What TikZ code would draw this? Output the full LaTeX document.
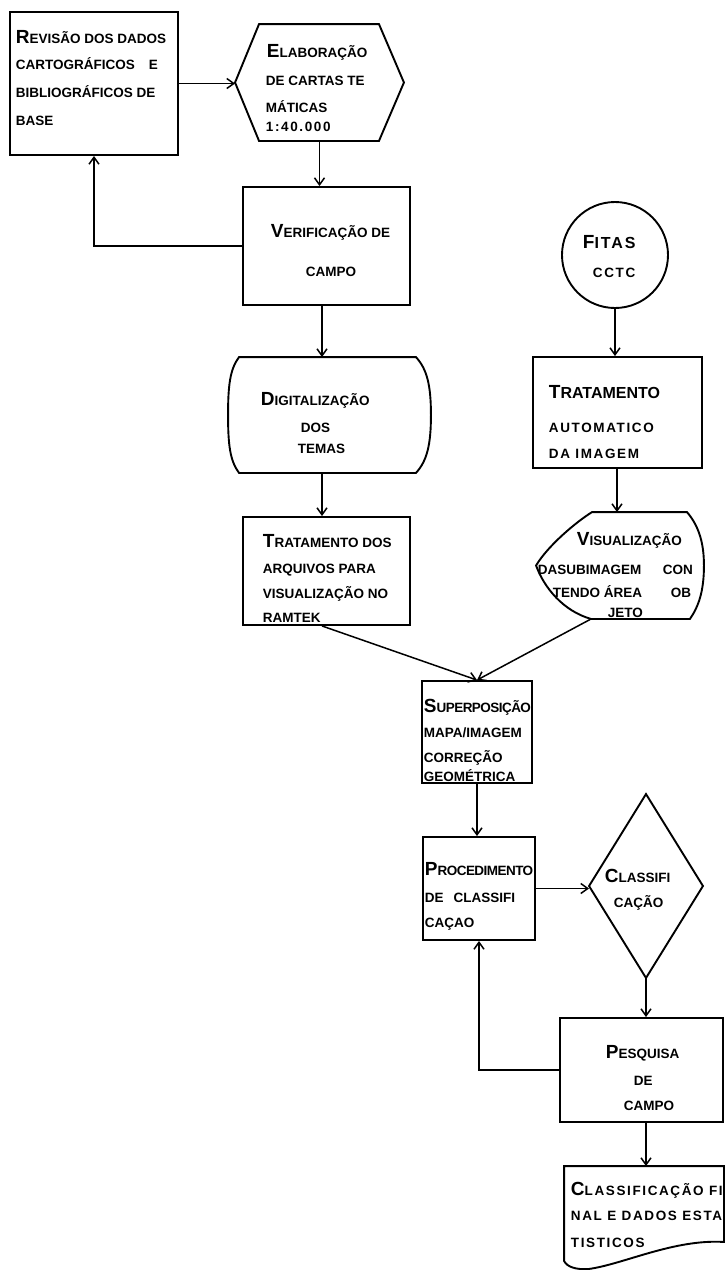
\documentclass[tikz,border=0pt]{standalone}
\usepackage{fontspec}
\setmainfont{Liberation Sans}
\usetikzlibrary{arrows.meta,calc}
\newcommand\Bg[1]{{\fontsize{19}{19}\selectfont #1}}
\newcommand\Ls[1]{{\addfontfeatures{LetterSpace=12}#1}}
\newcommand\Sq[1]{{\addfontfeatures{LetterSpace=-4}#1}}
\newcommand\tl[4]{\node[txt] (#1) at (#2,#3) {#4};}
\begin{document}
\begin{tikzpicture}[x=1pt,y=-1pt,line width=1.9pt,
  box/.style={draw,inner sep=0pt,line width=1.9pt},
  ghost/.style={inner sep=0pt},
  arr/.style={-{Straight Barb[length=7pt,width=10pt,line width=1.5pt]},line width=1.5pt},
  txt/.style={anchor=base west,inner sep=0pt,font=\fontsize{13.5}{13.5}\selectfont\bfseries}]
\useasboundingbox (0,0) rectangle (725,1270);
\coordinate (cL) at (322,0);
\coordinate (cR) at (617,0);
% shapes
\node[box,minimum width=168pt,minimum height=143pt] (rev) at (94,83.5) {};
\node[ghost,minimum width=167pt,minimum height=115pt] (elab) at (319.5,82.5) {};
\draw (elab.west) -- ($(elab.north west)+(24,0)$) -- ($(elab.north east)+(-25,0)$) -- (elab.east) -- ($(elab.south east)+(-25,0)$) -- ($(elab.south west)+(24,0)$) -- cycle;
\node[box,minimum width=167pt,minimum height=118pt] (verif) at (326.5,246) {};
\node[ghost,minimum width=201pt,minimum height=114pt] (dig) at (329.5,415) {};
\draw ($(dig.north west)+(11,0)$) -- ($(dig.north east)+(-15,0)$)
  .. controls ($(dig.north east)+(-4,12)$) and ($(dig.east)+(0,-30)$) .. (dig.east)
  .. controls ($(dig.east)+(0,30)$) and ($(dig.south east)+(-4,-12)$) .. ($(dig.south east)+(-15,0)$)
  -- ($(dig.south west)+(11,0)$)
  .. controls ($(dig.south west)+(2,-12)$) and ($(dig.west)+(0,30)$) .. (dig.west)
  .. controls ($(dig.west)+(0,-30)$) and ($(dig.north west)+(2,12)$) .. cycle;
\node[box,minimum width=167pt,minimum height=108pt] (arq) at (326.5,571) {};
\node[box,circle,minimum size=106pt] (fitas) at (615,255) {};
\node[box,minimum width=169pt,minimum height=111pt] (trat) at (617.5,412.5) {};
\node[ghost,minimum width=166pt,minimum height=105pt] (vis) at (620,565.5) {};
\coordinate (visb) at ($(vis.south west)+(55,0)$);
\draw ($(vis.north west)+(56,0)$) -- ($(vis.north east)+(-17,0)$)
  .. controls ($(vis.north east)+(-4,15)$) and ($(vis.east)+(0,-20)$) .. (vis.east)
  .. controls ($(vis.east)+(0,25)$) and ($(vis.south east)+(-5,-13)$) .. ($(vis.south east)+(-14,0)$)
  -- (visb)
  .. controls ($(visb)+(-28,-8)$) and ($(vis.west)+(8,22)$) .. (vis.west)
  .. controls ($(vis.west)+(12,-20)$) and ($(vis.north west)+(40,10)$) .. cycle;
\node[box,minimum width=110pt,minimum height=102pt] (sup) at (477,732) {};
\node[box,minimum width=112pt,minimum height=103pt] (proc) at (479,888.5) {};
\node[ghost,minimum width=112pt,minimum height=182pt] (cls) at (646,886) {};
\draw (cls.west) -- (cls.north) -- (cls.east) -- (cls.south) -- cycle;
\node[box,minimum width=163pt,minimum height=104pt] (pesq) at (641.5,1070) {};
\node[ghost,minimum width=158pt,minimum height=101pt] (doc) at (644,1217.5) {};
\draw (doc.north west) -- (doc.north east) -- ($(doc.south east)+(0,-27)$)
  .. controls ($(doc.south east)+(-50,-30)$) and ($(doc.south west)+(60,-5)$) .. ($(doc.south west)+(25,0)$)
  .. controls ($(doc.south west)+(12,1)$) and ($(doc.south west)+(3,-2)$) .. ($(doc.south west)+(0,-8)$) -- cycle;
% connectors
\draw[arr] (rev.east) -- (rev.east -| elab.west);
\draw[arr] (elab.south) -- (elab.south |- verif.north);
\draw[arr] (verif.west) -| (rev.south);
\draw[arr] (verif.south -| cL) -- (dig.north -| cL);
\draw[arr] (dig.south -| cL) -- (arq.north -| cL);
\draw[arr] (fitas.south) -- (fitas.south |- trat.north);
\draw[arr] (trat.south -| cR) -- (vis.north -| cR);
\draw[arr] (arq.south -| cL) -- (sup.north);
\draw[arr] (visb) -- (sup.north);
\draw[arr] (sup.south) -- (sup.south |- proc.north);
\draw[arr] (proc.east) -- (proc.east -| cls.west);
\draw[arr] (cls.south) -- (cls.south |- pesq.north);
\draw[arr] (pesq.west) -| (proc.south);
\draw[arr] (pesq.south -| cls.south) -- (doc.north -| cls.south);
% texts
\tl{r1}{15}{43}{\Bg{R}EVISÃO DOS DADOS}
\tl{r2}{15}{69}{CARTOGRÁFICOS\hspace{14pt}E}
\tl{r3}{15}{97}{BIBLIOGRÁFICOS DE}
\tl{r4}{15}{125}{BASE}
\tl{e1}{266}{57}{\Bg{E}LABORAÇÃO}
\tl{e2}{265}{85}{DE CARTAS TE}
\tl{e3}{265}{112}{MÁTICAS}
\tl{e4}{265}{131}{\Ls{1:40.000}}
\tl{v1}{270}{237}{\Bg{V}ERIFICAÇÃO DE}
\tl{v2}{305}{276}{CAMPO}
\tl{f1}{582}{248}{\Bg{F}{\fontsize{16}{16}\selectfont\Ls{ITAS}}}
\tl{f2}{592}{277}{\Ls{CCTC}}
\tl{d1}{260}{405}{\Bg{D}IGITALIZAÇÃO}
\tl{d2}{300}{432}{DOS}
\tl{d3}{297}{453}{TEMAS}
\tl{t1}{548}{398}{\Bg{T}{\fontsize{16}{16}\selectfont RATAMENTO}}
\tl{t2}{548}{432}{\Ls{AUTOMATICO}}
\tl{t3}{548}{458}{\Ls{DA IMAGEM}}
\tl{a1}{262}{547}{\Bg{T}RATAMENTO DOS}
\tl{a2}{262}{573}{ARQUIVOS PARA}
\tl{a3}{262}{598}{VISUALIZAÇÃO NO}
\tl{a4}{262}{622}{RAMTEK}
\tl{s1}{576}{545}{\Bg{V}ISUALIZAÇÃO}
\tl{s2}{537}{574}{DASUBIMAGEM}
\tl{s2b}{662}{574}{CON}
\tl{s3}{552}{597}{TENDO ÁREA}
\tl{s3b}{670}{597}{OB}
\tl{s4}{607}{617}{JETO}
\tl{p1}{423}{712}{\Bg{S}\Sq{UPERPOSIÇÃO}}
\tl{p2}{423}{737}{MAPA/IMAGEM}
\tl{p3}{423}{762}{CORREÇÃO}
\tl{p4}{423}{781}{GEOMÉTRICA}
\tl{c1}{424}{875}{\Bg{P}\Sq{ROCEDIMENTO}}
\tl{c2}{424}{902}{DE\hspace{10pt}CLASSIFI}
\tl{c3}{424}{927}{CAÇAO}
\tl{k1}{604}{882}{\Bg{C}LASSIFI}
\tl{k2}{613}{907}{CAÇÃO}
\tl{q1}{605}{1058}{\Bg{P}ESQUISA}
\tl{q2}{633}{1085}{DE}
\tl{q3}{623}{1110}{CAMPO}
\tl{x1}{570}{1195}{\Bg{C}\Ls{LASSIFICAÇÃO FI}}
\tl{x2}{570}{1220}{\Ls{NAL E DADOS ESTA}}
\tl{x3}{570}{1247}{\Ls{TISTICOS}}
\end{tikzpicture}
\end{document}
